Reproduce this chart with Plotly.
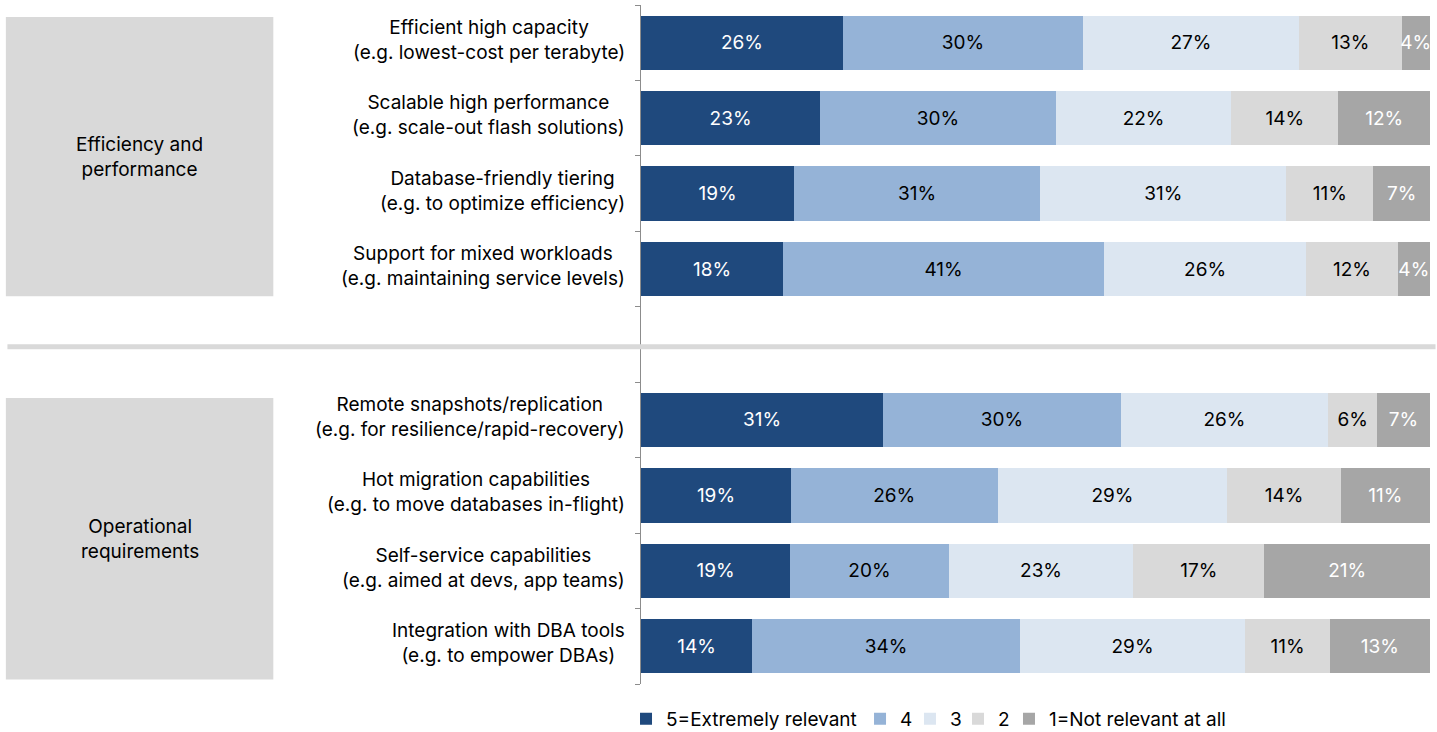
import plotly.graph_objects as go

categories = [
    "Efficient high capacity<br>(e.g. lowest-cost per terabyte)",
    "Scalable high performance<br>(e.g. scale-out flash solutions)",
    "Database-friendly tiering<br>(e.g. to optimize efficiency)",
    "Support for mixed workloads<br>(e.g. maintaining service levels)",
    "Remote snapshots/replication<br>(e.g. for resilience/rapid-recovery)",
    "Hot migration capabilities<br>(e.g. to move databases in-flight)",
    "Self-service capabilities<br>(e.g. aimed at devs, app teams)",
    "Integration with DBA tools<br>(e.g. to empower DBAs)",
]
# slot positions (slot 4 is the empty gap between groups)
positions = [0, 1, 2, 3, 5, 6, 7, 8]

groups = ["Efficiency and<br>performance", "Operational<br>requirements"]

series_names = ["5=Extremely relevant", "4", "3", "2", "1=Not relevant at all"]
v5 = [25.6, 22.7, 19.4, 18.0, 30.7, 19.0, 18.9, 14.1]
v4 = [30.4, 29.9, 31.2, 40.7, 30.1, 26.2, 20.1, 33.9]
v3 = [27.4, 22.2, 31.2, 25.6, 26.3, 29.1, 23.4, 28.6]
v2 = [13.0, 13.6, 11.0, 11.6, 6.2, 14.4, 16.6, 10.7]
v1 = [3.6, 11.6, 7.2, 4.1, 6.7, 11.3, 21.0, 12.7]
series_values = [v5, v4, v3, v2, v1]

colors = ["#1f497d", "#95b3d7", "#dce6f1", "#d9d9d9", "#a6a6a6"]
text_colors = ["white", "black", "black", "black", "white"]

FONT = "Inter"
FS = 19

# legend entry x positions (paper fraction)
legend_x = [-0.019, 0.2776, 0.3409, 0.4018, 0.4664]
legend_ids = ["legend", "legend2", "legend3", "legend4", "legend5"]

fig = go.Figure()
for name, vals, c, tc, lid in zip(series_names, series_values, colors, text_colors, legend_ids):
    fig.add_trace(go.Bar(
        name=name, y=positions, x=vals, orientation="h",
        marker=dict(color=c, line=dict(width=0)),
        texttemplate="%{x:.0f}%", textposition="inside",
        insidetextanchor="middle", textangle=0,
        textfont=dict(color=tc, size=FS, family=FONT),
        width=0.72, legend=lid,
    ))

boundaries = [i - 0.5 for i in range(10)]

legend_common = dict(orientation="h", yref="container", y=0.018, yanchor="middle",
                     xanchor="left", font=dict(size=FS, family=FONT),
                     bgcolor="rgba(0,0,0,0)", itemwidth=30)

fig.update_layout(
    barmode="stack",
    width=1437, height=732,
    margin=dict(l=641, r=7, t=5, b=48),
    plot_bgcolor="white", paper_bgcolor="white",
    font=dict(family=FONT, size=FS, color="black"),
    uniformtext=dict(minsize=FS, mode="show"),
    xaxis=dict(range=[0, 100], visible=False, fixedrange=True),
    yaxis=dict(
        range=[8.5, -0.5], showgrid=False, zeroline=False,
        showline=True, linecolor="#8c8c8c", linewidth=1,
        tickvals=[], showticklabels=False,
        minor=dict(tickvals=boundaries, ticks="outside", ticklen=5,
                   tickcolor="#8c8c8c", tickwidth=1, showgrid=False),
    ),
    showlegend=True,
)
for lid, lx in zip(legend_ids, legend_x):
    fig.update_layout({lid: dict(x=lx, **legend_common)})

# category labels
for cat, p in zip(categories, positions):
    fig.add_annotation(x=0, xref="paper", y=p, yref="y", text=cat,
                       xanchor="right", xshift=-14, yshift=3, align="center",
                       showarrow=False, font=dict(size=FS, family=FONT))

# group boxes
box_x0, box_x1 = -0.805, -0.466
group_spans = [(-0.34, 3.36), (4.71, 8.44)]
for g, (a, b) in zip(groups, group_spans):
    fig.add_shape(type="rect", xref="paper", yref="y", x0=box_x0, x1=box_x1,
                  y0=a, y1=b, fillcolor="#d9d9d9", line=dict(width=0), layer="below")
    fig.add_annotation(x=(box_x0 + box_x1) / 2, xref="paper", y=(a + b) / 2, yref="y",
                       text=g, showarrow=False, align="center",
                       xanchor="center", yanchor="middle",
                       font=dict(size=FS, family=FONT))

# separator
fig.add_shape(type="line", xref="paper", yref="y", x0=-0.803, x1=1.007, y0=4.03, y1=4.03,
              line=dict(color="#d9d9d9", width=5))

fig.write_html("out.html")
